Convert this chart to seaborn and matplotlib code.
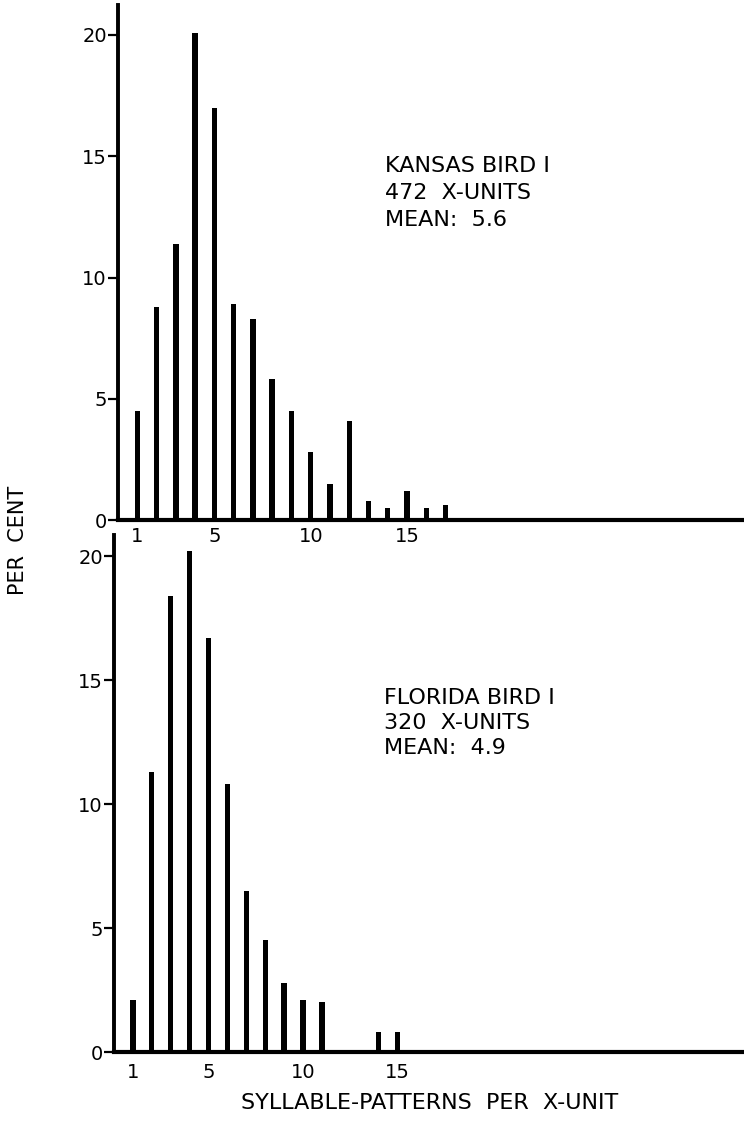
import matplotlib
matplotlib.use("Agg")
import matplotlib.pyplot as plt
import seaborn as sns
import pandas as pd

# ---- data ----
kansas_x = [1, 2, 3, 4, 5, 6, 7, 8, 9, 10, 11, 12, 13, 14, 15, 16, 17]
kansas_pct = [4.5, 8.8, 11.4, 20.1, 17.0, 8.9, 8.3, 5.8, 4.5, 2.8, 1.5, 4.1, 0.8, 0.5, 1.2, 0.5, 0.6]

florida_x = [1, 2, 3, 4, 5, 6, 7, 8, 9, 10, 11, 14, 15]
florida_pct = [2.1, 11.3, 18.4, 20.2, 16.7, 10.8, 6.5, 4.5, 2.8, 2.1, 2.0, 0.8, 0.8]

y_ticks = [0, 5, 10, 15, 20]
x_ticks = [1, 5, 10, 15]
x_ticklabels = ["1", "5", "10", "15"]

kansas_text = ["KANSAS BIRD I", "472  X-UNITS", "MEAN:  5.6"]
florida_text = ["FLORIDA BIRD I", "320  X-UNITS", "MEAN:  4.9"]
y_label = "PER  CENT"
x_label = "SYLLABLE-PATTERNS  PER  X-UNIT"

# ---- style ----
sns.set_style("ticks")
plt.rcParams["font.family"] = ["DejaVu Sans"]
plt.rcParams["font.size"] = 12

W, H = 744, 1125
fig = plt.figure(figsize=(W / 100, H / 100), dpi=100)

ax1 = fig.add_axes([118 / W, 1 - 520 / H, (W - 118) / W, 515 / H])
ax2 = fig.add_axes([114 / W, 1 - 1052 / H, (W - 114) / W, 517 / H])

df_k = pd.DataFrame({"x": kansas_x, "pct": kansas_pct})
df_f = pd.DataFrame({"x": florida_x, "pct": florida_pct})

sns.barplot(data=df_k, x="x", y="pct", native_scale=True, width=0.28,
            color="black", edgecolor="black", linewidth=0, ax=ax1)
sns.barplot(data=df_f, x="x", y="pct", native_scale=True, width=0.28,
            color="black", edgecolor="black", linewidth=0, ax=ax2)

ax1.set_xlim(0, (W - 117) / 19.3)
ax1.set_ylim(0, 515 / 24.25)
ax2.set_xlim(0, (W - 114) / 18.9)
ax2.set_ylim(0, 517 / 24.8)

for ax, pad in ((ax1, 5), (ax2, 8)):
    ax.set_xlabel("")
    ax.set_ylabel("")
    ax.set_yticks(y_ticks)
    ax.set_yticklabels([str(v) for v in y_ticks])
    ax.set_xticks(x_ticks)
    ax.set_xticklabels(x_ticklabels)
    ax.tick_params(axis="y", direction="out", length=7, width=1.6, pad=1,
                   labelsize=14, color="black", labelcolor="black")
    ax.tick_params(axis="x", length=0, pad=pad, labelsize=14, labelcolor="black")
    for s in ("top", "right"):
        ax.spines[s].set_visible(False)
    ax.spines["left"].set_linewidth(2.8)
    ax.spines["bottom"].set_linewidth(3.0)
    ax.spines["left"].set_color("black")
    ax.spines["bottom"].set_color("black")
    ax.patch.set_alpha(0)
    ax.grid(False)

def block(ax, x, y_mid, step, lines):
    for i, t in enumerate(lines):
        ax.text(x, y_mid + (1 - i) * step, t, ha="left", va="center",
                fontsize=16, color="black")

block(ax1, (384 - 117) / 19.3, (520 - 193) / 24.25, 27 / 24.25, kansas_text)
block(ax2, (384 - 114) / 18.9, (1052 - 723) / 24.8, 25.5 / 24.8, florida_text)

fig.text(18 / W, 1 - 540 / H, y_label, rotation=90, ha="center", va="center",
         fontsize=15, color="black")
fig.text(430 / W, 1 - 1103 / H, x_label, ha="center", va="center",
         fontsize=16, color="black")

fig.savefig("out.png", dpi=100, facecolor="white")
